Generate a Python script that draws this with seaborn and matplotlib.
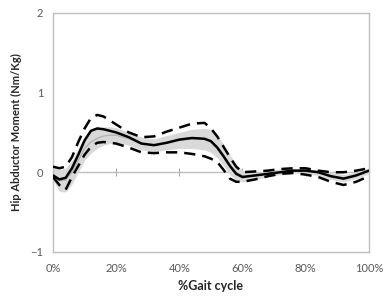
import matplotlib
matplotlib.use("Agg")
import matplotlib.pyplot as plt
import seaborn as sns
import numpy as np
import pandas as pd

gait = [0, 2, 4, 6, 8, 10, 12, 14, 16, 18, 20, 24, 28, 32, 36, 40, 44, 48, 50,
        52, 54, 56, 58, 60, 64, 68, 72, 76, 80, 84, 88, 92, 96, 100]
mean_moment = [-0.04, -0.09, -0.07, 0.05, 0.22, 0.40, 0.52, 0.55, 0.54, 0.52, 0.50,
               0.44, 0.36, 0.34, 0.37, 0.41, 0.43, 0.42, 0.39, 0.31, 0.20, 0.08,
               -0.02, -0.06, -0.04, -0.02, 0.00, 0.02, 0.02, 0.00, -0.05, -0.08,
               -0.04, 0.02]
upper_sd = [0.07, 0.05, 0.07, 0.19, 0.38, 0.55, 0.68, 0.72, 0.70, 0.65, 0.60,
            0.50, 0.44, 0.45, 0.51, 0.56, 0.61, 0.62, 0.55, 0.45, 0.32, 0.19,
            0.07, 0.00, 0.01, 0.02, 0.04, 0.05, 0.05, 0.02, 0.00, 0.00, 0.02, 0.05]
lower_sd = [-0.06, -0.16, -0.22, -0.06, 0.08, 0.22, 0.32, 0.37, 0.38, 0.37, 0.36,
            0.31, 0.25, 0.24, 0.25, 0.25, 0.23, 0.20, 0.17, 0.13, 0.03, -0.08,
            -0.12, -0.12, -0.09, -0.05, -0.02, -0.01, -0.03, -0.06, -0.12, -0.16,
            -0.12, -0.05]
band_upper = [0.06, 0.03, 0.05, 0.15, 0.30, 0.45, 0.52, 0.55, 0.57, 0.57, 0.56,
              0.50, 0.44, 0.42, 0.46, 0.50, 0.54, 0.55, 0.54, 0.46, 0.35, 0.22,
              0.10, 0.02, 0.00, 0.02, 0.04, 0.05, 0.04, 0.03, 0.00, -0.03, 0.00, 0.05]
band_lower = [-0.10, -0.24, -0.25, -0.15, 0.00, 0.15, 0.24, 0.30, 0.34, 0.36, 0.37,
              0.34, 0.28, 0.26, 0.28, 0.30, 0.30, 0.28, 0.25, 0.18, 0.08, -0.03,
              -0.10, -0.12, -0.09, -0.06, -0.03, -0.01, -0.02, -0.04, -0.09, -0.12,
              -0.08, -0.02]
xtick_vals = [0, 20, 40, 60, 80, 100]
xtick_labels = ["0%", "20%", "40%", "60%", "80%", "100%"]
ytick_vals = [-1, 0, 1, 2]

df = pd.DataFrame({"gait": gait, "mean": mean_moment, "upper": upper_sd,
                   "lower": lower_sd, "bu": band_upper, "bl": band_lower})
df["bm"] = (df["bu"] + df["bl"]) / 2

sns.set_style("white")
plt.rcParams["font.family"] = ["Lato", "DejaVu Sans"]

fig = plt.figure(figsize=(3.87, 3.02), dpi=100)
ax = fig.add_axes([0.137, 0.166, 0.816, 0.791])

ax.fill_between(df["gait"], df["bl"], df["bu"], color="#d9d9d9", lw=0, zorder=1)
sns.lineplot(data=df, x="gait", y="bm", ax=ax, color="#b3b3b3", lw=1.0, zorder=2)
sns.lineplot(data=df, x="gait", y="mean", ax=ax, color="black", lw=1.8, zorder=4)
for col in ["upper", "lower"]:
    sns.lineplot(data=df, x="gait", y=col, ax=ax, color="black", lw=1.8,
                 dashes=False, zorder=3).lines[-1].set_dashes([4.5, 2.8])

ax.set_xlim(0, 100)
ax.set_ylim(-1, 2)
ax.set_xticks(xtick_vals)
ax.set_xticklabels(xtick_labels)
ax.set_yticks(ytick_vals)
ax.tick_params(axis="x", length=0, pad=8, labelsize=8, labelcolor="#595959")
ax.tick_params(axis="y", length=4, width=0.8, color="#a6a6a6", direction="out",
               labelsize=8, labelcolor="#595959", pad=3)
for s in ax.spines.values():
    s.set_color("#bfbfbf")
    s.set_linewidth(1.0)

sec = ax.secondary_xaxis(1/3)
sec.set_xticks([20, 40, 60, 80])
sec.set_xticklabels([])
sec.tick_params(length=6, width=0.8, color="#a6a6a6", direction="inout")
sec.spines["bottom"].set_color("#bfbfbf")
sec.spines["top"].set_color("#bfbfbf")
sec.spines["bottom"].set_linewidth(1.0)

ax.set_xlabel("%Gait cycle", fontsize=9, fontweight="bold", labelpad=4)
ax.set_ylabel("Hip Abductor Moment (Nm/Kg)", fontsize=8, fontweight="bold", labelpad=6)

fig.savefig("out.png", dpi=100)
